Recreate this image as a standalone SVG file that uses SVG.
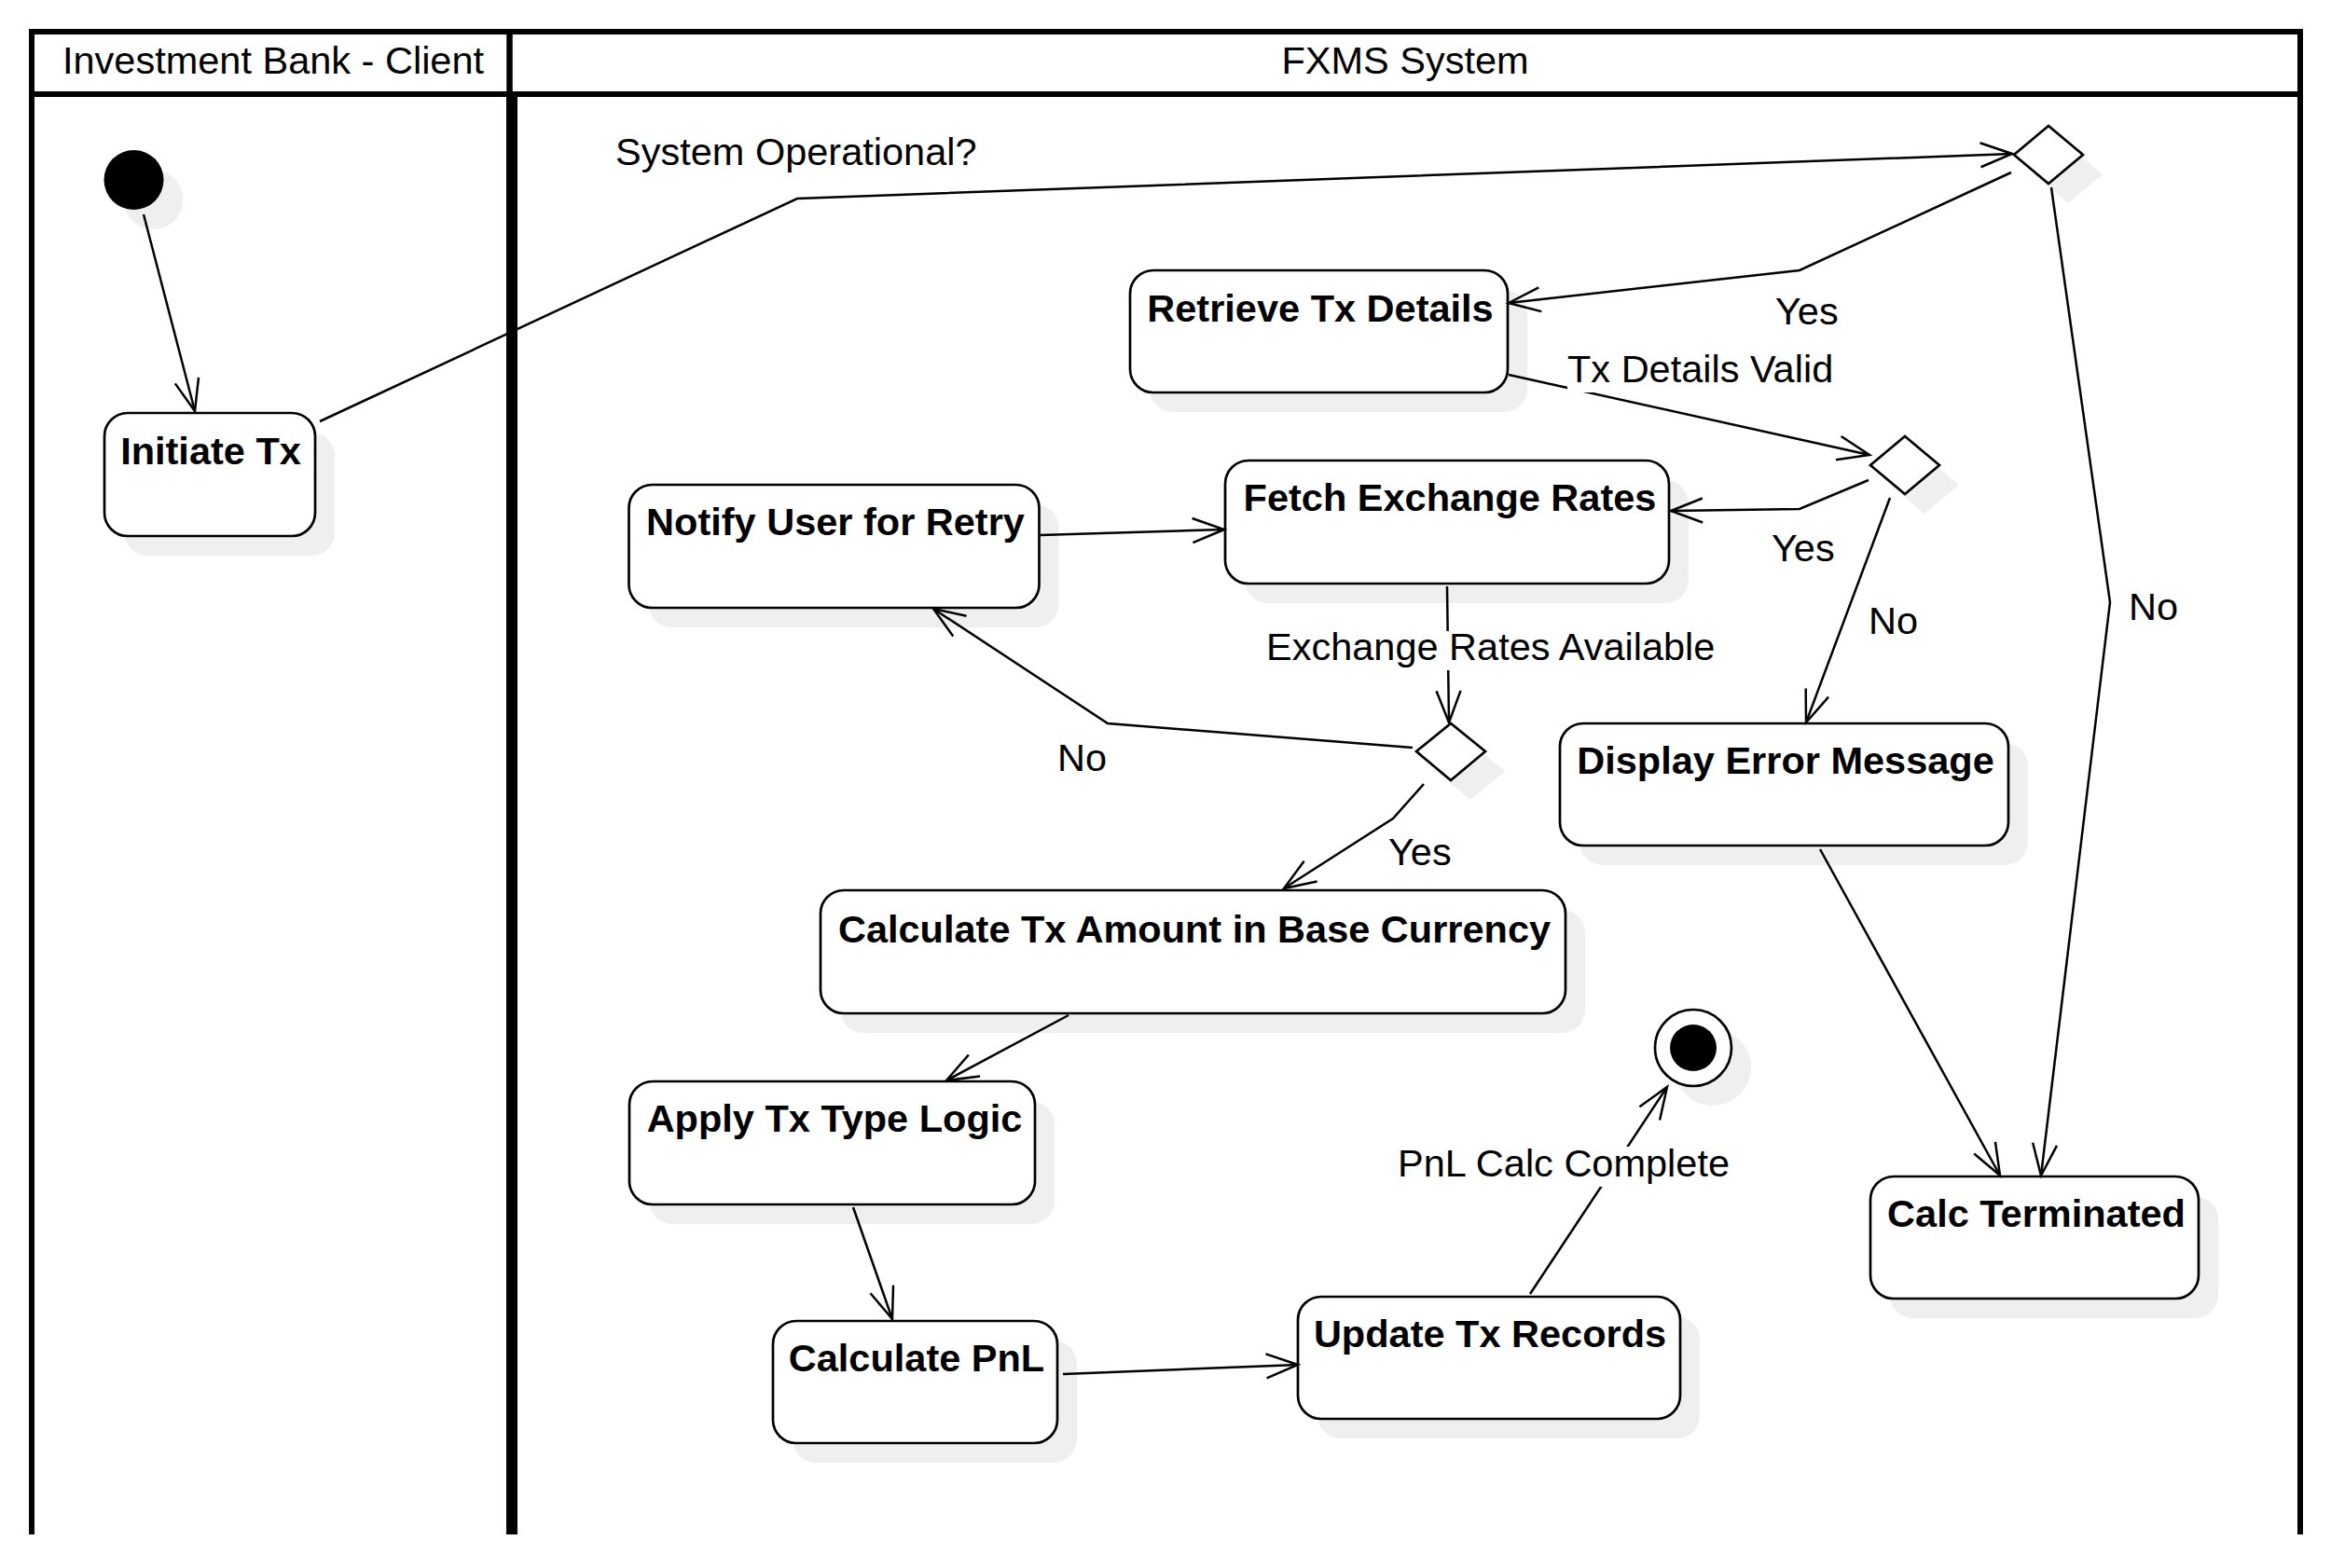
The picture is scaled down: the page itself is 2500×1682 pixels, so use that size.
<svg xmlns="http://www.w3.org/2000/svg" width="2500" height="1682" viewBox="0 0 2500 1682">
<style>
text{font-family:"Liberation Sans",Arial,sans-serif;font-size:41.5px;fill:#000}
.t{font-weight:bold;text-anchor:middle}
.h{text-anchor:middle}
.box{fill:#fff;stroke:#000;stroke-width:2.7}
.sh{fill:#efefef;stroke:none}
.ln{fill:none;stroke:#000;stroke-width:2.5}
.lane{stroke:#000;fill:none}
.bg{fill:#fff}
</style>
<defs>
<marker id="arr" markerUnits="userSpaceOnUse" viewBox="-38 -16 42 32" refX="0" refY="0" markerWidth="42" markerHeight="32" orient="auto" overflow="visible">
<path d="M-34,-13 L0,0 L-34,13" fill="none" stroke="#000" stroke-width="2.5"/>
</marker>
</defs>
<rect width="2500" height="1682" fill="#fff"/>
<g id="lanes">
<line class="lane" x1="31" y1="34" x2="2470" y2="34" stroke-width="6"/>
<line class="lane" x1="31" y1="101" x2="2470" y2="101" stroke-width="6"/>
<line class="lane" x1="34" y1="31" x2="34" y2="1646" stroke-width="6"/>
<line class="lane" x1="2467" y1="31" x2="2467" y2="1646" stroke-width="6"/>
<line class="lane" x1="546.5" y1="31" x2="546.5" y2="101" stroke-width="6.5"/>
<rect x="543" y="101" width="12" height="1545" fill="#000"/>
<text class="h" x="293" y="79">Investment Bank - Client</text>
<text class="h" x="1507" y="79">FXMS System</text>
</g>
<g id="start">
<circle class="sh" cx="164.5" cy="214" r="32"/>
<circle cx="143.5" cy="193" r="32" fill="#000"/>
</g>
<g id="initiate-tx">
<rect class="sh" x="133" y="464" width="226" height="132" rx="25"/>
<rect class="box" x="112" y="443" width="226" height="132" rx="25"/>
<text class="t" x="226" y="498">Initiate Tx</text>
</g>
<g id="decision-system">
<polygon class="sh" points="2181,187 2218,156 2255,187 2218,218"/>
<polygon class="box" points="2160,166 2197,135 2234,166 2197,197"/>
</g>
<g id="retrieve-tx-details">
<rect class="sh" x="1233" y="311" width="405" height="131" rx="25"/>
<rect class="box" x="1212" y="290" width="405" height="131" rx="25"/>
<text class="t" x="1416" y="345">Retrieve Tx Details</text>
</g>
<g id="decision-valid">
<polygon class="sh" points="2027,520 2064,489 2101,520 2064,551"/>
<polygon class="box" points="2006,499 2043,468 2080,499 2043,530"/>
</g>
<g id="fetch-exchange-rates">
<rect class="sh" x="1335" y="515" width="476" height="132" rx="25"/>
<rect class="box" x="1314" y="494" width="476" height="132" rx="25"/>
<text class="t" x="1555" y="548">Fetch Exchange Rates</text>
</g>
<g id="notify-user">
<rect class="sh" x="695.5" y="541" width="440" height="132" rx="25"/>
<rect class="box" x="674.5" y="520" width="440" height="132" rx="25"/>
<text class="t" x="896" y="574">Notify User for Retry</text>
</g>
<g id="decision-rates">
<polygon class="sh" points="1540,827 1577,797 1614,827 1577,858"/>
<polygon class="box" points="1519,806 1556,776 1593,806 1556,837"/>
</g>
<g id="display-error">
<rect class="sh" x="1694" y="797" width="481" height="131" rx="25"/>
<rect class="box" x="1673" y="776" width="481" height="131" rx="25"/>
<text class="t" x="1915" y="830">Display Error Message</text>
</g>
<g id="calc-base">
<rect class="sh" x="901" y="976" width="799" height="132" rx="25"/>
<rect class="box" x="880" y="955" width="799" height="132" rx="25"/>
<text class="t" x="1281" y="1011">Calculate Tx Amount in Base Currency</text>
</g>
<g id="apply-logic">
<rect class="sh" x="696" y="1181" width="435" height="132" rx="25"/>
<rect class="box" x="675" y="1160" width="435" height="132" rx="25"/>
<text class="t" x="895" y="1214">Apply Tx Type Logic</text>
</g>
<g id="calc-pnl">
<rect class="sh" x="850" y="1438" width="305" height="131" rx="25"/>
<rect class="box" x="829" y="1417" width="305" height="131" rx="25"/>
<text class="t" x="983" y="1471">Calculate PnL</text>
</g>
<g id="update-records">
<rect class="sh" x="1413" y="1412" width="410" height="131" rx="25"/>
<rect class="box" x="1392" y="1391" width="410" height="131" rx="25"/>
<text class="t" x="1598" y="1445">Update Tx Records</text>
</g>
<g id="end">
<circle class="sh" cx="1837" cy="1145" r="41"/>
<circle class="box" cx="1816" cy="1124" r="41"/>
<circle cx="1816" cy="1124" r="25" fill="#000"/>
</g>
<g id="calc-terminated">
<rect class="sh" x="2027" y="1283" width="352" height="131" rx="25"/>
<rect class="box" x="2006" y="1262" width="352" height="131" rx="25"/>
<text class="t" x="2184" y="1316">Calc Terminated</text>
</g>
<g id="connectors">
<polyline class="ln" points="154,230 209,441" marker-end="url(#arr)"/>
<polyline class="ln" points="343,452 855,213 2158,165" marker-end="url(#arr)"/>
<text x="660" y="177">System Operational?</text>
<polyline class="ln" points="2157,185 1930,290 1618,325" marker-end="url(#arr)"/>
<text x="1904" y="348">Yes</text>
<polyline class="ln" points="2200,201 2263,646 2189,1261" marker-end="url(#arr)"/>
<text x="2283" y="665">No</text>
<polyline class="ln" points="1618,402 2005,488" marker-end="url(#arr)"/>
<rect class="bg" x="1681" y="378" width="286" height="43"/>
<text x="1681" y="410">Tx Details Valid</text>
<polyline class="ln" points="2004,515 1930,546 1792,548" marker-end="url(#arr)"/>
<text x="1900" y="602">Yes</text>
<polyline class="ln" points="2027,534 1937,775" marker-end="url(#arr)"/>
<text x="2004" y="680">No</text>
<polyline class="ln" points="1552,629 1554,775" marker-end="url(#arr)"/>
<rect class="bg" x="1358" y="677" width="486" height="42"/>
<text x="1358" y="708">Exchange Rates Available</text>
<polyline class="ln" points="1515,802 1188,776 1001,653" marker-end="url(#arr)"/>
<text x="1134" y="827">No</text>
<polyline class="ln" points="1116,574 1313,568" marker-end="url(#arr)"/>
<polyline class="ln" points="1527,841 1494,878 1377,953" marker-end="url(#arr)"/>
<text x="1489" y="928">Yes</text>
<polyline class="ln" points="1146,1089 1015,1159" marker-end="url(#arr)"/>
<polyline class="ln" points="915,1295 957,1415" marker-end="url(#arr)"/>
<polyline class="ln" points="1140,1474 1392,1464" marker-end="url(#arr)"/>
<polyline class="ln" points="1641,1388 1788,1166" marker-end="url(#arr)"/>
<rect class="bg" x="1499" y="1230" width="358" height="43"/>
<text x="1499" y="1262">PnL Calc Complete</text>
<polyline class="ln" points="1952,911 2145,1261" marker-end="url(#arr)"/>
</g>
</svg>
